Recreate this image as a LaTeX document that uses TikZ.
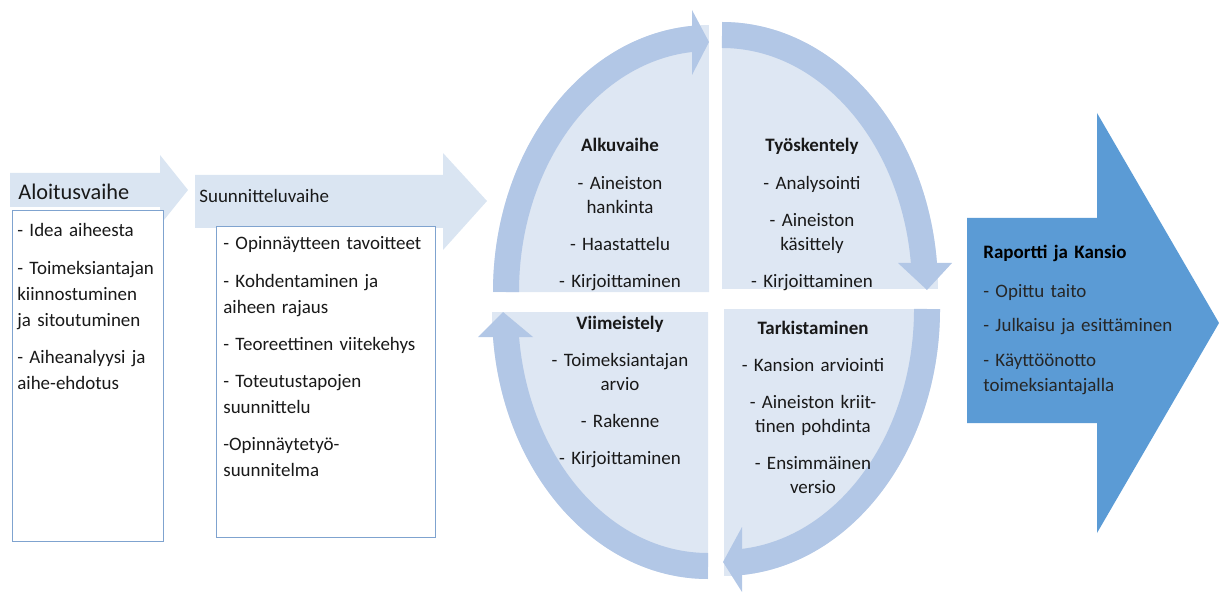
\documentclass[tikz,border=0pt]{standalone}
\usepackage{fontspec}
\setmainfont{Carlito}
\usetikzlibrary{arrows.meta, positioning, calc}
\definecolor{myPale}{HTML}{DAE5F2}
\definecolor{myQuad}{HTML}{DEE7F3}
\definecolor{myBand}{HTML}{B2C7E6}
\definecolor{myBlue}{HTML}{5B9BD5}
\definecolor{myEdge}{HTML}{7FA3CF}

\begin{document}
\begin{tikzpicture}[x=0.02cm, y=0.02cm,
listbox/.style={rectangle, draw=myEdge, line width=0.6pt, fill=white, anchor=north west, inner sep=0pt},
listtext/.style={anchor=base west, align=left, inner sep=0pt, text width=4.2cm, text=black!90, font=\fontsize{10.8}{14.8}\selectfont},
quadtext/.style={anchor=base, align=center, inner sep=0pt, text width=3.6cm, text=black!90, font=\fontsize{10.8}{13.7}\selectfont},
quad/.style={fill=myQuad},
band/.style={draw=myBand, line width=0.52cm},
bandhead/.style={fill=myBand}
]
\useasboundingbox (0,0) rectangle (1219,592);

% phase arrows
\fill[myPale] (10,419) -- (160,419) -- (160,437) -- (188,402) -- (160,367) -- (160,385) -- (10,385) -- cycle;
\fill[myPale] (195,417) -- (443,417) -- (443,439) -- (487,391) -- (443,342) -- (443,364) -- (195,364) -- cycle;

\node[listbox, minimum width=3.02cm, minimum height=6.62cm] (aloitus) at (12,382) {};
\node[listbox, minimum width=4.38cm, minimum height=6.22cm] (suunnittelu) at (216,366) {};

\node[anchor=base west, inner sep=0pt, text=black!90, font=\fontsize{12.7}{15}\selectfont] (aloitustitle) at ($(aloitus.north west)+(6,10)$) {Aloitusvaihe};
\node[anchor=base west, inner sep=0pt, text=black!90, font=\fontsize{10.8}{13}\selectfont] (suunnittelutitle) at ($(suunnittelu.north west)+(-17,23)$) {Suunnitteluvaihe};

\node[listtext] (aloitusitems) at ($(aloitus.north west)+(5,-27)$) {- Idea aiheesta\\[6.3pt] - Toimeksiantajan\\ kiinnostuminen\\ ja sitoutuminen\\[6.3pt] - Aiheanalyysi ja\\ aihe-ehdotus};
\node[listtext] (suunnitteluitems) at ($(suunnittelu.north west)+(7,-24)$) {- Opinnäytteen tavoitteet\\[6.3pt] - Kohdentaminen ja\\ aiheen rajaus\\[6.3pt] - Teoreettinen viitekehys\\[6.3pt] - Toteutustapojen\\ suunnittelu\\[6.3pt] -Opinnäytetyö-\\ suunnitelma};

% cycle
\coordinate (tl) at (709,300);
\coordinate (tr) at (722,303);
\coordinate (bl) at (708,280);
\coordinate (br) at (724,283);

\fill[quad] (tl) -- ++(-216,0) arc[start angle=180, end angle=90, x radius=4.32cm, y radius=5.34cm] -- cycle;
\fill[quad] (tr) -- ++(0,267) arc[start angle=90, end angle=0, x radius=4.32cm, y radius=5.34cm] -- cycle;
\fill[quad] (bl) -- ++(0,-267) arc[start angle=270, end angle=180, x radius=4.32cm, y radius=5.34cm] -- cycle;
\fill[quad] (br) -- ++(216,0) arc[start angle=0, end angle=-90, x radius=4.32cm, y radius=5.34cm] -- cycle;

\draw[band] ($(tl)+(-203,0)$) arc[start angle=180, end angle=94, x radius=4.06cm, y radius=5.08cm];
\fill[bandhead] (692,582) -- (709,550) -- (692,517) -- cycle;
\draw[band] ($(tr)+(0,254)$) arc[start angle=90, end angle=4, x radius=4.06cm, y radius=5.08cm];
\fill[bandhead] (898,329) -- (927,302) -- (952,329) -- cycle;
\draw[band] ($(bl)+(0,-254)$) arc[start angle=270, end angle=184, x radius=4.06cm, y radius=5.08cm];
\fill[bandhead] (478,255) -- (503,280) -- (533,255) -- cycle;
\draw[band] ($(br)+(203,0)$) arc[start angle=0, end angle=-86, x radius=4.06cm, y radius=5.08cm];
\fill[bandhead] (742,65) -- (723,30) -- (742,0) -- cycle;

\node[quadtext] (alku) at (620,440) {\textbf{Alkuvaihe}\\[7.4pt] - Aineiston\\ hankinta\\[7.4pt] - Haastattelu\\[7.4pt] - Kirjoittaminen};
\node[quadtext] (tyoskentely) at (812,440) {\textbf{Työskentely}\\[7.4pt] - Analysointi\\[7.4pt] - Aineiston\\ käsittely\\[7.4pt] - Kirjoittaminen};
\node[quadtext] (viimeistely) at (620,263) {\textbf{Viimeistely}\\[7.4pt] - Toimeksiantajan\\ arvio\\[7.4pt] - Rakenne\\[7.4pt] - Kirjoittaminen};
\node[quadtext] (tarkistaminen) at (813,258) {\textbf{Tarkistaminen}\\[7.4pt] - Kansion arviointi\\[7.4pt] - Aineiston kriit-\\ tinen pohdinta\\[7.4pt] - Ensimmäinen\\ versio};

% result arrow
\fill[myBlue] (967,374) -- (1097,374) -- (1097,479) -- (1219,269) -- (1097,59) -- (1097,169) -- (967,169) -- cycle;
\node[listtext, text=black!85, font=\fontsize{10.8}{14.2}\selectfont] (raportti) at (983,334) {\textbf{\color{black}Raportti ja Kansio}\\[8pt] - Opittu taito\\[5.7pt] - Julkaisu ja esittäminen\\[5.7pt] - Käyttöönotto\\ toimeksiantajalla};
\end{tikzpicture}
\end{document}
